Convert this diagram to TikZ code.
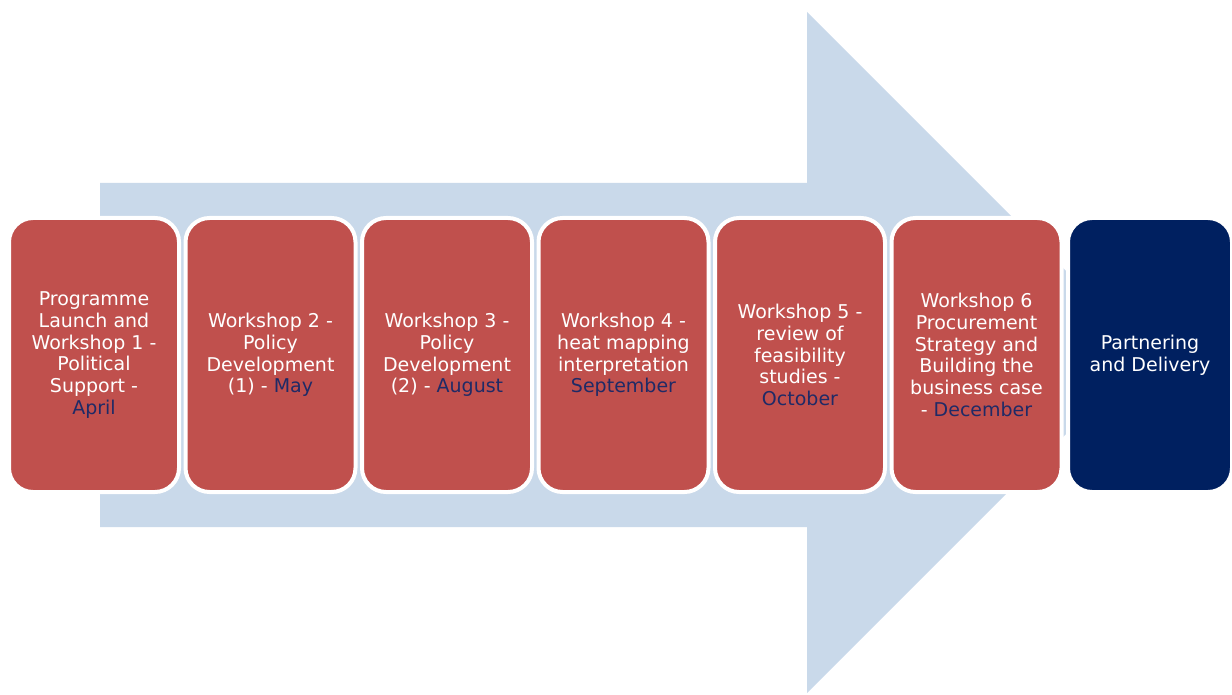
\documentclass[tikz,border=0pt]{standalone}
\usepackage{fontspec}
\setmainfont{DejaVu Sans}
\definecolor{arrowblue}{HTML}{C9D9EA}
\definecolor{boxred}{HTML}{C0504D}
\definecolor{boxnavy}{HTML}{002060}
\definecolor{monthnavy}{HTML}{1F2A66}
\newcommand{\mon}[1]{\textcolor{monthnavy}{#1}}
\tikzset{
  stage/.style={rounded corners=24pt, draw=white, line width=4pt, fill=boxred,
    minimum width=170pt, minimum height=274pt, inner sep=0pt, text=white,
    align=center, font=\fontsize{19}{21.7}\selectfont},
  finalstage/.style={stage, fill=boxnavy, minimum width=164pt}
}
\begin{document}
\begin{tikzpicture}[x=1pt,y=-1pt]
\useasboundingbox (0,0) rectangle (1232,695);
% big background arrow
\fill[arrowblue] (100,183) -- (807,183) -- (807,12) -- (1147.5,352.5) -- (807,693) -- (807,527) -- (100,527) -- cycle;
% stages
\node[stage] (s1) at (94,355) {Programme\\Launch and\\Workshop 1 -\\Political\\Support -\\\mon{April}};
\node[stage] (s2) at (270.5,355) {Workshop 2 -\\Policy\\Development\\(1) - \mon{May}};
\node[stage] (s3) at (447,355) {Workshop 3 -\\Policy\\Development\\(2) - \mon{August}};
\node[stage] (s4) at (623.5,355) {Workshop 4 -\\heat mapping\\interpretation\\\mon{September}};
\node[stage] (s5) at (800,355) {Workshop 5 -\\review of\\feasibility\\studies -\\\mon{October}};
\node[stage] (s6) at (976.5,355) {Workshop 6\\Procurement\\Strategy and\\Building the\\business case\\- \mon{December}};
\node[finalstage] (s7) at (1150,355) {Partnering\\and Delivery};
\end{tikzpicture}
\end{document}
